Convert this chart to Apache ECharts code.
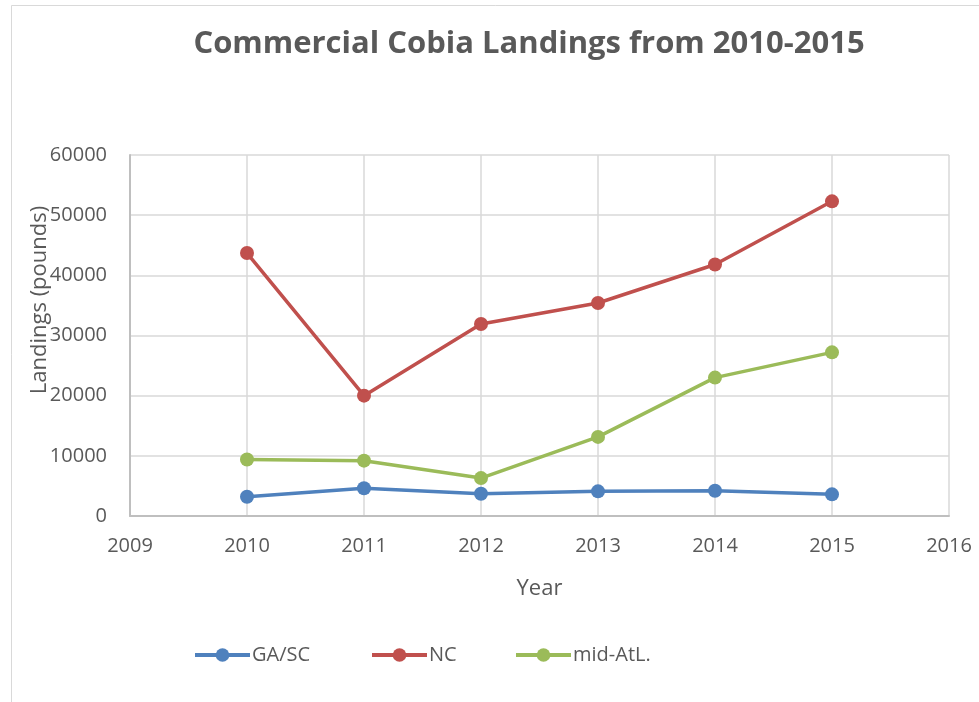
<!DOCTYPE html>
<html>
<head>
<meta charset="utf-8">
<script src="https://cdn.jsdelivr.net/npm/echarts@6/dist/echarts.min.js"></script>
<style>
  html, body { margin: 0; padding: 0; background: #fff; }
  #chart { width: 979px; height: 702px; }
</style>
</head>
<body>
<div id="chart"></div>
<script>
// Commercial cobia landings (pounds) by region
const years = [2010, 2011, 2012, 2013, 2014, 2015];
const gaSc = [3200, 4600, 3700, 4100, 4200, 3600];
const nc = [43700, 20000, 31900, 35400, 41800, 52300];
const midAtl = [9400, 9200, 6300, 13150, 23000, 27200];
const seriesNames = ['GA/SC', 'NC', 'mid-AtL.'];
const seriesColors = ['#4f81bd', '#c0504d', '#9bbb59'];
const legendLeft = [193, 370, 514];

const pairs = vals => years.map((y, i) => [y, vals[i]]);
const seriesData = [gaSc, nc, midAtl];

const textColor = '#595959';
const font = 'Open Sans';

const chart = echarts.init(document.getElementById('chart'));
chart.setOption({
  animation: false,
  backgroundColor: '#fff',
  graphic: [{
    type: 'rect',
    shape: { x: 11.5, y: 5.5, width: 1000, height: 1000 },
    style: { fill: 'none', stroke: '#d9d9d9', lineWidth: 1 },
    silent: true
  }, {
    type: 'text',
    x: 40,
    y: 300,
    rotation: Math.PI / 2,
    style: {
      text: 'Landings (pounds)',
      fontFamily: font,
      fontSize: 22,
      fill: textColor,
      align: 'center',
      verticalAlign: 'middle'
    },
    z: 10,
    silent: true
  }],
  title: {
    text: 'Commercial Cobia Landings from 2010-2015',
    left: 524,
    top: 24,
    textAlign: 'center',
    textStyle: { fontFamily: font, fontSize: 31, fontWeight: 'bold', color: textColor }
  },
  legend: seriesNames.map((n, i) => ({
    left: legendLeft[i],
    top: 645,
    padding: 0,
    itemWidth: 55,
    itemHeight: 17,
    itemGap: 0,
    lineStyle: { width: 4 },
    textStyle: { fontFamily: font, fontSize: 20, color: textColor, padding: [0, 0, 0, -3] },
    data: [n]
  })),
  grid: { left: 130, right: 30, top: 155, bottom: 186 },
  xAxis: {
    type: 'value',
    min: 2009,
    max: 2016,
    interval: 1,
    name: 'Year',
    nameLocation: 'middle',
    nameGap: 62,
    nameTextStyle: { fontFamily: font, fontSize: 22, color: textColor },
    axisLine: { show: true, lineStyle: { color: '#bfbfbf', width: 2 } },
    axisTick: { show: false },
    axisLabel: { fontFamily: font, fontSize: 20, color: textColor, margin: 20, formatter: v => String(v) },
    splitLine: { show: true, lineStyle: { color: '#d9d9d9', width: 1.5 } }
  },
  yAxis: {
    type: 'value',
    min: 0,
    max: 60000,
    interval: 10000,
    axisLine: { show: true, lineStyle: { color: '#bfbfbf', width: 2 } },
    axisTick: { show: false },
    axisLabel: { fontFamily: font, fontSize: 20, color: textColor, margin: 23, formatter: v => String(v) },
    splitLine: { show: true, lineStyle: { color: '#d9d9d9', width: 1.5 } }
  },
  series: seriesNames.map((name, i) => ({
    name: name,
    type: 'line',
    data: pairs(seriesData[i]),
    symbol: 'circle',
    symbolSize: 14,
    showAllSymbol: true,
    itemStyle: { color: seriesColors[i] },
    lineStyle: { color: seriesColors[i], width: 3.5 }
  }))
});
</script>
</body>
</html>
